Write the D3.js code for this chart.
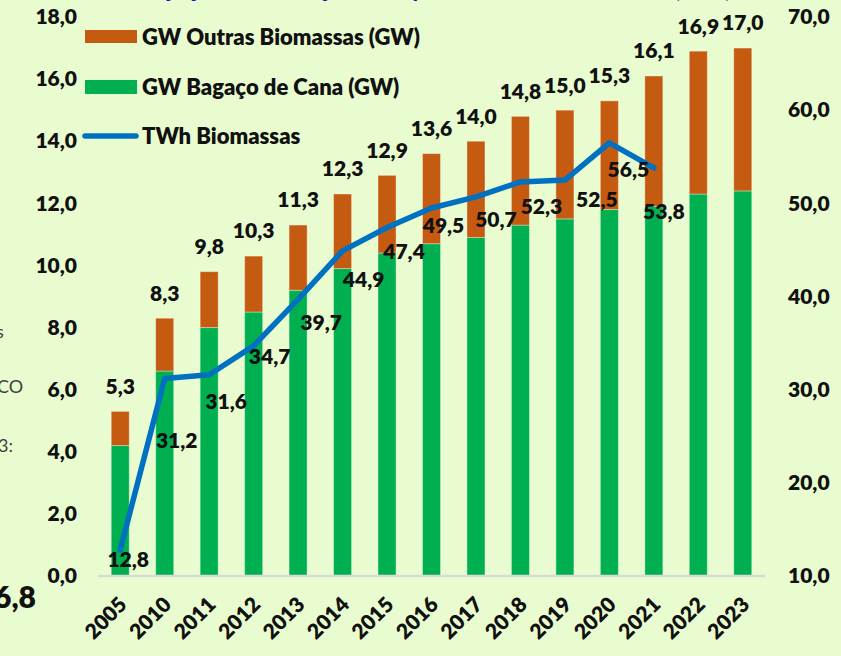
<!DOCTYPE html>
<html><head><meta charset="utf-8">
<script src="https://cdn.jsdelivr.net/npm/d3@7"></script>
<style>
html,body{margin:0;padding:0;background:#e8fccf;}
svg{display:block;}
text{font-family:Lato,"Open Sans",sans-serif;}
</style></head>
<body>
<svg id="c" width="841" height="656"></svg>
<script>
// ---- data ----
const years = ["2005","2010","2011","2012","2013","2014","2015","2016","2017","2018","2019","2020","2021","2022","2023"];
const bagaco = [4.2, 6.6, 8.0, 8.5, 9.2, 9.9, 10.4, 10.7, 10.9, 11.3, 11.5, 11.8, 11.9, 12.3, 12.4];
const outras = [1.1, 1.7, 1.8, 1.8, 2.1, 2.4, 2.5, 2.9, 3.1, 3.5, 3.5, 3.5, 4.2, 4.6, 4.6];
const twh = [12.8, 31.2, 31.6, 34.7, 39.7, 44.9, 47.4, 49.5, 50.7, 52.3, 52.5, 56.5, 53.8, null, null];
const leftTicks = [0,2,4,6,8,10,12,14,16,18];
const rightTicks = [10,20,30,40,50,60,70];
const seriesNames = ["GW Outras Biomassas (GW)", "GW Bagaço de Cana (GW)", "TWh Biomassas"];
const titleText = "Projeção da Geração e Capacidade de Biomassas (GW)";

// ---- layout (label nudges for line labels, px) ----
const lineLabelNudge = [[8,10],[12,62],[17,27],[16,11],[23,23],[21,29],[17,24],[12,18],[20,23],[21,25],[32,20],[19,27],[10,44]];

const colOrange = "#c55a11", colGreen = "#00b050", colBlue = "#0070c0";
const fmt = v => v.toFixed(1).replace(".", ",");
const W = 800;

const svg = d3.select("#c");
svg.append("rect").attr("width",841).attr("height",656).attr("fill","#e8fccf");

const x = d3.scaleBand().domain(years).range([98,765]).paddingInner(0.595).paddingOuter(0.2975);
const yL = d3.scaleLinear().domain([0,18]).range([576,17]);
const yR = d3.scaleLinear().domain([10,70]).range([576,17]);

// title (cut off at the top)
svg.append("text").attr("x",430).attr("y",-3).attr("text-anchor","middle")
  .attr("font-size",25).attr("font-weight","bold").attr("fill","#1414d8").text(titleText);

// left-edge fragments
svg.append("text").attr("x",-4).attr("y",338).attr("font-size",18).attr("fill","#404040").attr("font-family","Open Sans").text("s");
svg.append("text").attr("x",-3).attr("y",393).attr("font-size",18).attr("fill","#404040").attr("font-family","Open Sans").text("CO");
svg.append("text").attr("x",-2).attr("y",452).attr("font-size",18).attr("fill","#404040").attr("font-family","Open Sans").text("3:");
svg.append("text").attr("x",-6).attr("y",608).attr("font-size",30).attr("font-weight",W).attr("fill","#111").text("6,8");

// stacked bars
const rows = years.map((yr,i)=>({year:yr, bagaco:bagaco[i], outras:outras[i]}));
const stack = d3.stack().keys(["bagaco","outras"])(rows);
const colors = {bagaco:colGreen, outras:colOrange};
stack.forEach(layer=>{
  svg.append("g").selectAll("rect").data(layer).join("rect")
    .attr("x",d=>x(d.data.year)).attr("width",x.bandwidth())
    .attr("y",d=>yL(d[1])).attr("height",d=>yL(d[0])-yL(d[1]))
    .attr("fill",colors[layer.key])
    .attr("stroke","rgba(255,255,255,0.35)").attr("stroke-width",1);
});

// axis baseline
svg.append("line").attr("x1",98).attr("x2",765).attr("y1",576).attr("y2",576)
  .attr("stroke","#d9d9d9").attr("stroke-width",2.5);

// left axis
const gL = svg.append("g").attr("transform","translate(77,0)")
  .call(d3.axisLeft(yL).tickValues(leftTicks).tickFormat(fmt).tickSize(0).tickPadding(0));
gL.select(".domain").remove();
gL.selectAll("text").attr("font-size",21).attr("font-weight",W).attr("fill","#111").attr("font-family","Lato");

// right axis
const gR = svg.append("g").attr("transform","translate(788,0)")
  .call(d3.axisRight(yR).tickValues(rightTicks).tickFormat(fmt).tickSize(0).tickPadding(0));
gR.select(".domain").remove();
gR.selectAll("text").attr("font-size",21).attr("font-weight",W).attr("fill","#111").attr("font-family","Lato");

// x labels
svg.append("g").selectAll("text").data(years).join("text")
  .attr("transform",d=>`translate(${x(d)+x.bandwidth()/2+8},606) rotate(-45)`)
  .attr("text-anchor","end").attr("font-size",21).attr("font-weight",W).attr("fill","#111")
  .text(d=>d);

// total labels
svg.append("g").selectAll("text").data(rows).join("text")
  .attr("x",d=>x(d.year)+x.bandwidth()/2).attr("y",d=>yL(d.bagaco+d.outras)-25)
  .attr("dy","0.35em").attr("text-anchor","middle")
  .attr("font-size",21).attr("font-weight",W).attr("fill","#111")
  .text(d=>fmt(d.bagaco+d.outras));

// line
const pts = years.map((yr,i)=>({year:yr, v:twh[i], i}));
const line = d3.line().defined(d=>d.v!=null)
  .x(d=>x(d.year)+x.bandwidth()/2).y(d=>yR(d.v));
svg.append("path").datum(pts).attr("d",line).attr("fill","none")
  .attr("stroke",colBlue).attr("stroke-width",5.5).attr("stroke-linejoin","round").attr("stroke-linecap","round");

// line labels
svg.append("g").selectAll("text").data(pts.filter(d=>d.v!=null)).join("text")
  .attr("x",d=>x(d.year)+x.bandwidth()/2+lineLabelNudge[d.i][0])
  .attr("y",d=>yR(d.v)+lineLabelNudge[d.i][1])
  .attr("dy","0.35em").attr("text-anchor","middle")
  .attr("font-size",21).attr("font-weight",W).attr("fill","#111")
  .text(d=>fmt(d.v));

// legend
const leg = svg.append("g");
leg.append("rect").attr("x",85).attr("y",30).attr("width",52).attr("height",13).attr("fill",colOrange);
leg.append("rect").attr("x",85).attr("y",80).attr("width",52).attr("height",14).attr("fill",colGreen);
leg.append("line").attr("x1",85).attr("x2",136).attr("y1",136).attr("y2",136)
  .attr("stroke",colBlue).attr("stroke-width",5.5).attr("stroke-linecap","round");
[37,87,136].forEach((cy,i)=>{
  leg.append("text").attr("x",142).attr("y",cy).attr("dy","0.35em")
    .attr("font-size",22).attr("font-weight",W).attr("fill","#111").text(seriesNames[i]);
});
</script>
</body></html>
